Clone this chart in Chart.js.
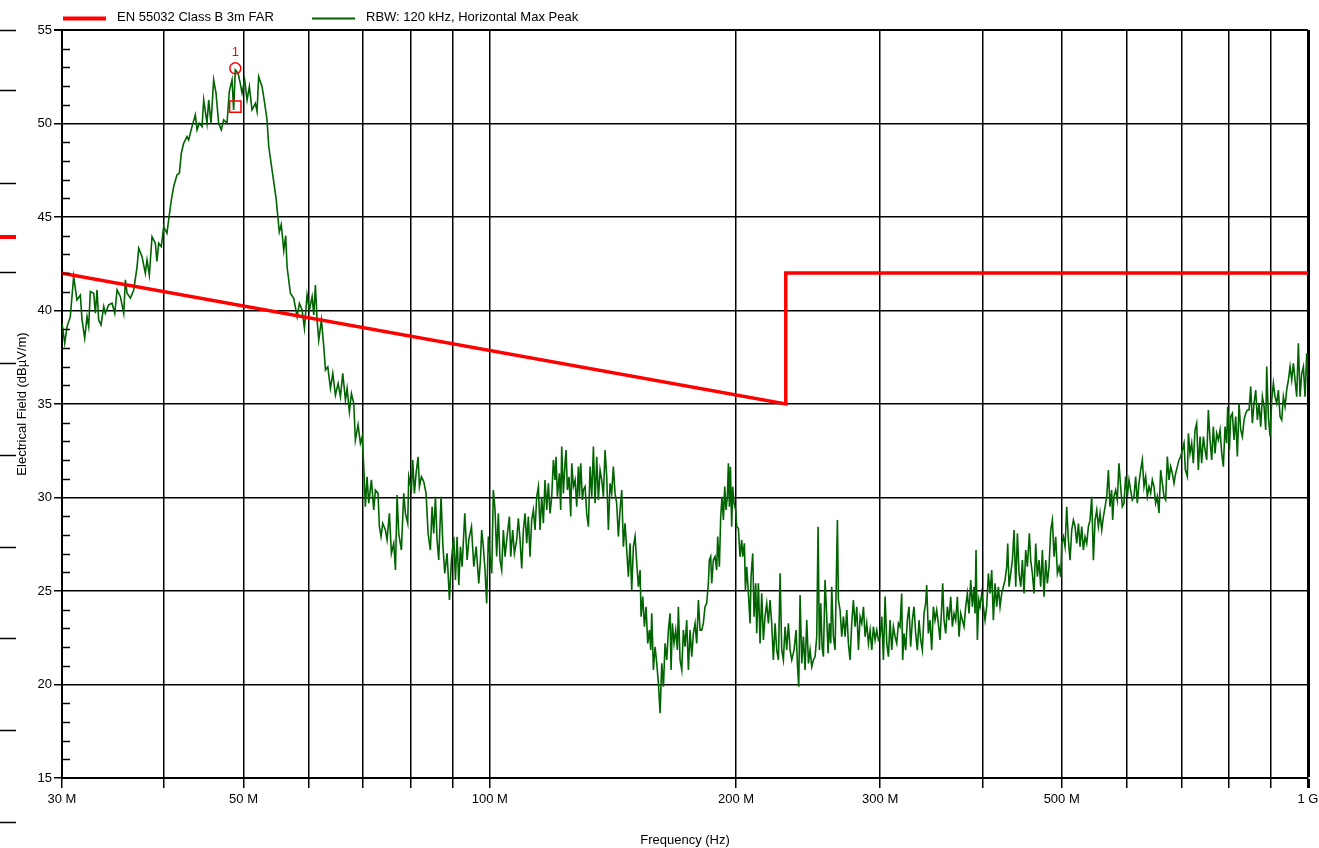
<!DOCTYPE html>
<html>
<head>
<meta charset="utf-8">
<title>Radiated emission scan</title>
<script src="https://cdn.jsdelivr.net/npm/chart.js@4.4.1/dist/chart.umd.min.js"></script>
<style>
  html, body { margin: 0; padding: 0; background: #fff; }
  #wrap { width: 1319px; height: 848px; position: relative; }
</style>
</head>
<body>
<div id="wrap"><canvas id="emiChart"></canvas></div>
<script>
// limit line (MHz / dBuV/m)
const limitFreq = [30, 230, 230, 1000];
const limitLevel = [42, 35, 42, 42];

const traceFreq = [
  30.00, 30.23, 30.43, 30.71, 31.00, 31.29, 31.59, 31.74, 31.98, 32.19,
  32.34, 32.49, 32.80, 32.95, 33.11, 33.26, 33.48, 33.74, 33.89, 34.21,
  34.54, 34.80, 35.03, 35.36, 35.69, 35.86, 36.03, 36.37, 36.71, 37.06,
  37.23, 37.58, 37.93, 38.11, 38.36, 38.65, 39.01, 39.19, 39.38, 39.67,
  39.94, 40.31, 40.50, 40.81, 41.08, 41.46, 41.74, 41.97, 42.25, 42.65,
  42.85, 43.25, 43.66, 43.87, 44.15, 44.49, 44.70, 45.12, 45.33, 45.63,
  45.97, 46.28, 46.62, 46.97, 47.28, 47.73, 48.04, 48.41, 48.63, 48.86,
  49.23, 49.55, 49.79, 50.16, 50.50, 50.83, 51.21, 51.70, 51.94, 52.18,
  52.68, 53.07, 53.42, 53.68, 54.18, 54.80, 55.30, 55.60, 56.00, 56.30,
  56.52, 57.05, 57.59, 58.14, 58.52, 58.96, 59.35, 59.79, 60.19, 60.65,
  60.93, 61.21, 61.50, 61.79, 62.26, 62.67, 62.97, 63.38, 63.86, 64.28,
  64.76, 65.25, 65.68, 66.11, 66.61, 66.92, 67.36, 67.74, 68.19, 68.50,
  69.02, 69.47, 69.81, 70.13, 70.46, 70.79, 71.12, 71.66, 72.13, 72.47,
  73.01, 73.29, 73.63, 73.98, 74.54, 74.89, 75.38, 75.81, 76.31, 76.68,
  77.03, 77.39, 77.97, 78.49, 78.86, 79.37, 79.60, 80.20, 80.50, 80.88,
  81.26, 81.72, 82.03, 82.49, 83.03, 83.58, 84.05, 84.60, 85.00, 85.40,
  85.81, 86.21, 86.61, 87.18, 87.60, 88.09, 88.67, 89.26, 89.76, 90.35,
  90.78, 91.21, 91.64, 92.06, 92.50, 93.20, 93.81, 94.26, 94.97, 95.59,
  96.23, 96.94, 97.40, 97.74, 98.19, 98.66, 99.12, 99.59, 100.06, 100.54,
  101.00, 101.48, 101.95, 102.43, 102.91, 103.39, 103.89, 104.38, 104.87, 105.66,
  106.06, 106.65, 107.16, 107.86, 108.36, 108.88, 109.39, 109.91, 110.43, 110.94,
  111.46, 111.98, 112.51, 113.04, 113.57, 114.11, 114.65, 115.18, 115.73, 116.27,
  116.81, 117.37, 117.92, 118.47, 119.03, 119.59, 120.15, 120.49, 120.95, 121.63,
  122.08, 122.43, 123.00, 123.58, 123.93, 124.40, 124.98, 125.58, 125.93, 126.52,
  127.12, 127.71, 128.31, 128.68, 129.16, 129.77, 130.13, 130.74, 131.35, 131.98,
  132.60, 133.24, 133.85, 134.48, 135.11, 135.74, 136.38, 137.02, 137.66, 138.31,
  138.96, 139.61, 140.26, 140.92, 141.58, 142.25, 142.92, 143.59, 144.27, 144.95,
  145.63, 146.31, 147.00, 147.69, 148.39, 149.09, 149.79, 150.50, 151.21, 151.92,
  152.63, 153.07, 153.79, 154.51, 155.23, 155.96, 156.70, 157.29, 157.73, 158.47,
  159.22, 159.97, 160.72, 161.48, 162.24, 163.00, 163.76, 164.54, 165.30, 166.07,
  166.54, 167.16, 167.95, 168.74, 169.53, 170.00, 170.81, 171.62, 172.42, 173.23,
  174.04, 174.87, 175.69, 176.53, 177.35, 178.18, 179.01, 179.86, 180.70, 181.54,
  182.38, 183.24, 184.10, 184.98, 185.49, 186.19, 186.74, 187.60, 188.48, 189.36,
  189.90, 190.80, 191.51, 192.23, 192.96, 193.69, 194.41, 195.14, 195.70, 196.25,
  196.80, 197.53, 198.09, 198.84, 199.78, 200.33, 201.28, 202.22, 203.19, 203.75,
  204.71, 205.31, 206.06, 207.03, 208.00, 208.59, 209.57, 210.37, 211.35, 211.94,
  212.94, 213.94, 214.95, 215.96, 216.96, 217.99, 219.02, 220.04, 221.07, 222.11,
  223.17, 224.21, 225.29, 226.34, 227.39, 228.45, 229.54, 230.61, 231.70, 232.80,
  233.89, 235.44, 236.76, 237.65, 238.54, 239.44, 240.58, 241.70, 242.84, 243.98,
  245.17, 246.28, 247.46, 248.60, 249.77, 250.94, 251.89, 252.84, 253.80, 254.75,
  255.69, 256.89, 258.10, 259.07, 260.04, 261.02, 261.75, 262.98, 264.23, 265.46,
  265.97, 266.71, 267.97, 269.24, 270.52, 271.80, 273.07, 274.33, 275.61, 276.91,
  278.21, 279.52, 280.86, 282.18, 283.51, 284.85, 286.18, 287.52, 288.87, 290.24,
  291.60, 292.97, 294.34, 295.74, 297.13, 298.53, 299.94, 301.34, 302.74, 304.18,
  305.61, 307.04, 308.46, 309.91, 311.37, 312.84, 314.31, 315.77, 317.20, 318.70,
  319.59, 320.80, 322.31, 323.82, 325.33, 326.87, 328.42, 329.96, 331.50, 333.07,
  334.64, 336.22, 337.79, 339.39, 340.98, 341.94, 343.56, 345.16, 346.78, 348.42,
  350.06, 351.69, 353.35, 355.01, 356.71, 357.69, 359.04, 360.74, 362.43, 364.12,
  365.85, 367.58, 369.30, 371.03, 372.78, 374.53, 376.29, 378.06, 379.84, 381.62,
  383.42, 385.23, 387.04, 388.86, 390.68, 391.80, 392.88, 394.37, 395.89, 397.35,
  399.21, 401.07, 402.96, 404.86, 406.76, 408.69, 410.61, 412.54, 414.49, 416.44,
  418.38, 420.35, 422.33, 424.31, 426.31, 428.31, 429.53, 431.12, 433.17, 435.21,
  437.26, 439.30, 441.39, 443.47, 445.55, 447.64, 449.70, 451.82, 453.94, 456.50,
  458.22, 460.37, 462.54, 464.72, 466.91, 469.11, 471.30, 473.51, 475.75, 478.00,
  480.24, 482.49, 484.77, 487.06, 489.35, 491.64, 493.97, 496.29, 498.62, 500.04,
  502.37, 504.73, 507.11, 509.51, 511.88, 514.29, 516.71, 519.17, 521.59, 524.10,
  526.52, 528.99, 531.45, 533.96, 536.48, 538.99, 541.54, 544.08, 546.64, 549.22,
  551.79, 554.37, 556.99, 559.63, 562.23, 564.88, 567.54, 570.22, 572.75, 575.46,
  577.07, 579.25, 581.97, 584.70, 587.43, 590.21, 593.00, 595.78, 598.57, 601.41,
  604.25, 607.09, 609.93, 612.80, 615.68, 618.57, 621.48, 624.40, 627.34, 630.29,
  633.26, 636.24, 639.24, 642.23, 645.23, 648.29, 651.34, 654.40, 657.46, 660.58,
  663.70, 666.83, 669.94, 673.11, 676.28, 679.45, 682.65, 685.86, 689.08, 692.32,
  695.59, 698.86, 702.15, 705.44, 708.13, 712.10, 714.18, 717.47, 720.83, 724.19,
  727.61, 731.04, 734.47, 737.95, 741.42, 744.90, 748.42, 751.93, 755.44, 759.00,
  762.59, 766.15, 769.76, 773.39, 777.06, 780.68, 784.43, 788.06, 791.75, 795.44,
  797.72, 801.49, 804.51, 808.28, 812.08, 815.90, 819.74, 823.59, 827.46, 831.35,
  835.26, 839.20, 843.15, 847.11, 851.09, 855.06, 859.11, 863.16, 867.22, 871.27,
  875.40, 879.54, 883.67, 887.81, 890.30, 894.48, 898.69, 902.94, 907.16, 911.41,
  915.70, 920.02, 924.33, 928.68, 933.05, 937.49, 941.85, 946.38, 950.76, 955.22,
  959.67, 964.21, 968.75, 973.29, 977.90, 982.49, 987.12, 991.74, 996.43, 999.24
];
const traceLevel = [
  39.32, 38.25, 39.14, 39.67, 41.81, 40.57, 40.83, 39.50, 38.52, 39.67,
  39.14, 41.01, 40.92, 39.85, 41.10, 39.50, 39.23, 40.21, 39.85, 40.30,
  40.39, 39.85, 41.10, 40.74, 39.85, 41.64, 40.92, 40.66, 41.10, 42.35,
  43.33, 42.88, 41.99, 42.70, 41.90, 43.95, 43.60, 42.62, 43.60, 43.42,
  44.49, 44.13, 44.84, 45.91, 46.63, 47.25, 47.34, 48.41, 48.94, 49.30,
  49.12, 49.83, 50.46, 49.66, 50.01, 49.83, 51.26, 50.01, 51.26, 50.01,
  52.33, 51.62, 50.01, 49.66, 50.19, 50.01, 51.71, 52.33, 50.73, 52.87,
  52.69, 52.15, 51.62, 52.33, 51.26, 51.97, 50.73, 51.08, 50.64, 52.51,
  51.97, 51.08, 50.19, 48.77, 47.52, 46.00, 44.20, 44.60, 43.20, 44.00,
  42.34, 40.92, 40.65, 39.67, 40.38, 40.03, 39.05, 40.83, 40.03, 40.74,
  39.76, 41.36, 39.49, 38.42, 39.49, 38.07, 36.82, 36.99, 35.84, 36.64,
  35.48, 36.10, 35.39, 36.64, 35.21, 35.84, 34.59, 35.57, 35.04, 33.07,
  33.88, 32.90, 33.25, 31.65, 29.51, 31.11, 29.69, 30.94, 29.33, 30.40,
  30.22, 28.44, 27.91, 28.62, 28.26, 27.73, 29.15, 27.01, 27.55, 26.12,
  30.13, 28.08, 27.19, 30.22, 29.15, 28.62, 31.11, 30.40, 32.00, 30.22,
  31.29, 32.18, 30.58, 31.11, 30.85, 30.22, 28.08, 27.19, 29.51, 28.08,
  30.04, 27.73, 26.66, 30.04, 27.55, 25.94, 27.01, 24.52, 26.66, 27.90,
  25.59, 27.90, 25.32, 27.37, 26.30, 29.15, 26.66, 27.73, 28.44, 26.30,
  27.37, 25.41, 26.66, 28.26, 27.37, 26.12, 24.34, 27.91, 26.84, 25.94,
  30.40, 29.33, 26.84, 29.15, 26.66, 26.12, 28.26, 26.84, 27.73, 28.98,
  26.84, 28.26, 27.01, 27.73, 28.89, 27.73, 26.21, 28.26, 29.15, 27.55,
  28.98, 26.84, 28.80, 29.33, 28.26, 30.04, 30.58, 28.26, 30.04, 28.62,
  30.94, 29.33, 30.76, 29.15, 30.04, 32.01, 30.94, 32.18, 30.04, 31.29,
  29.33, 32.72, 30.22, 31.83, 32.54, 30.40, 31.11, 28.98, 31.83, 30.58,
  30.94, 29.51, 31.65, 30.04, 31.83, 29.87, 30.40, 30.58, 29.15, 28.44,
  31.65, 30.04, 32.72, 29.69, 32.18, 29.87, 31.47, 30.94, 30.04, 32.54,
  31.11, 28.26, 30.76, 30.22, 31.65, 30.22, 29.69, 27.91, 29.33, 30.40,
  27.37, 28.62, 27.19, 25.77, 27.55, 25.05, 27.37, 27.91, 26.48, 25.23,
  26.12, 23.63, 24.70, 23.09, 24.16, 22.20, 22.91, 21.85, 23.81, 20.78,
  22.02, 21.13, 20.06, 18.46, 21.13, 19.88, 22.20, 21.31, 22.91, 23.81,
  20.78, 23.27, 22.20, 22.91, 21.85, 24.16, 21.31, 20.78, 22.91, 22.02,
  23.45, 20.78, 22.91, 21.49, 22.74, 23.27, 22.20, 24.52, 22.91, 22.91,
  23.27, 24.16, 24.34, 25.41, 26.66, 26.84, 25.41, 26.66, 26.84, 26.12,
  27.91, 26.30, 28.97, 30.04, 28.80, 30.58, 29.33, 30.04, 31.83, 29.51,
  31.65, 28.44, 30.58, 29.69, 29.33, 28.44, 28.35, 26.84, 27.73, 26.84,
  27.55, 25.05, 26.30, 24.88, 23.27, 25.77, 27.01, 23.63, 25.41, 22.74,
  25.41, 22.20, 24.88, 22.38, 23.63, 24.34, 23.27, 24.52, 23.27, 21.31,
  23.27, 21.85, 21.31, 25.95, 21.85, 21.31, 23.09, 21.85, 23.27, 21.85,
  21.31, 21.85, 22.91, 21.13, 19.88, 24.79, 21.13, 22.56, 20.78, 23.45,
  21.13, 21.85, 20.95, 21.31, 21.49, 22.56, 28.44, 21.85, 24.34, 22.02,
  21.49, 25.59, 23.63, 21.67, 23.27, 22.20, 25.23, 22.56, 21.85, 26.84,
  28.80, 24.52, 23.98, 22.56, 23.63, 22.56, 23.98, 22.20, 21.31, 23.27,
  24.52, 23.09, 24.16, 21.85, 23.63, 23.27, 24.16, 22.56, 23.27, 22.20,
  22.91, 21.85, 23.09, 22.38, 22.91, 22.38, 22.56, 23.63, 21.31, 24.70,
  22.20, 21.49, 23.45, 21.85, 23.09, 22.56, 22.20, 23.27, 23.09, 24.87,
  21.31, 22.73, 21.84, 23.44, 24.16, 22.02, 23.44, 24.16, 22.73, 21.84,
  23.44, 22.38, 21.84, 23.80, 24.34, 25.32, 22.73, 23.44, 21.84, 24.16,
  23.44, 23.98, 23.27, 22.38, 24.16, 25.41, 23.44, 22.73, 24.16, 23.44,
  24.69, 23.09, 23.80, 23.44, 24.69, 22.55, 23.80, 23.44, 23.09, 24.16,
  24.87, 23.80, 25.58, 24.16, 25.23, 23.80, 27.19, 22.38, 24.51, 24.16,
  24.87, 24.16, 23.44, 24.16, 25.94, 24.87, 26.12, 23.44, 25.41, 24.16,
  25.23, 24.16, 24.87, 25.23, 25.58, 26.30, 27.54, 25.23, 25.94, 26.65,
  28.26, 25.23, 28.08, 25.94, 25.23, 26.65, 24.87, 27.19, 26.30, 28.08,
  26.65, 25.94, 24.87, 27.54, 25.76, 26.65, 25.23, 27.19, 24.69, 26.65,
  25.41, 26.30, 28.26, 28.79, 26.83, 27.90, 25.94, 26.30, 25.76, 27.54,
  27.90, 27.37, 29.50, 27.72, 26.65, 28.26, 28.79, 28.44, 27.54, 28.61,
  27.37, 28.44, 27.19, 27.90, 27.54, 28.44, 28.79, 30.04, 26.65, 28.79,
  29.33, 28.44, 29.15, 28.26, 28.97, 29.50, 30.04, 31.47, 29.51, 30.40,
  28.80, 30.05, 30.40, 29.87, 31.83, 30.58, 29.51, 29.69, 31.12, 30.05,
  30.94, 30.40, 29.87, 30.05, 31.12, 29.69, 30.76, 31.47, 32.01, 30.58,
  31.12, 30.05, 30.58, 30.23, 30.94, 30.58, 29.69, 30.05, 29.16, 31.47,
  30.76, 30.05, 29.87, 32.19, 30.94, 31.65, 31.30, 30.76, 31.30, 31.65,
  32.01, 32.19, 32.54, 32.90, 31.47, 31.12, 33.43, 32.36, 32.90, 31.83,
  33.61, 33.97, 31.47, 33.26, 31.83, 33.26, 32.54, 32.01, 34.68, 33.08,
  32.01, 33.79, 32.36, 33.43, 33.08, 33.61, 32.36, 31.65, 33.79, 32.90,
  34.86, 32.54, 34.33, 34.50, 33.08, 34.33, 32.19, 35.04, 33.61, 33.26,
  34.15, 34.50, 34.68, 34.68, 35.93, 33.97, 35.04, 35.75, 34.15, 35.04,
  33.79, 35.39, 34.86, 33.61, 37.00, 34.33, 33.26, 35.22, 36.11, 35.39,
  35.04, 35.75, 34.33, 34.15, 35.39, 34.86, 35.75, 36.29, 37.00, 36.29,
  37.18, 36.29, 35.39, 38.25, 35.39, 36.64, 37.00, 35.39, 37.71, 36.46
];

// marker 1: peak (circle) and quasi-peak (square)
const markerNames = ['1'];
const markerFreq = [48.86];
const markerPeak = [52.95];
const markerQp = [50.9];

const xTickValues = [30, 40, 50, 60, 70, 80, 90, 100, 200, 300, 400, 500, 600, 700, 800, 900, 1000];
const xTickLabels = { 30: '30 M', 50: '50 M', 100: '100 M', 200: '200 M', 300: '300 M', 500: '500 M', 1000: '1 G' };
const yMin = 15;
const yMax = 55;
const seriesNames = ['EN 55032 Class B 3m FAR', 'RBW: 120 kHz, Horizontal Max Peak'];

if (traceFreq.length !== traceLevel.length) {
    throw new Error('trace arrays differ: ' + traceFreq.length + ' vs ' + traceLevel.length);
}

const FONT = "'Liberation Sans', Arial, sans-serif";
const RED = '#ff0000';
const GREEN = '#006400';

const extras = {
    id: 'extras',
    afterDraw(chart) {
        const { ctx, chartArea } = chart;
        const xs = chart.scales.x;
        const ys = chart.scales.y;
        ctx.save();

        // minor y ticks, drawn inward
        ctx.strokeStyle = '#000';
        ctx.lineWidth = 1.5;
        for (let v = yMin; v <= yMax; v++) {
            if (v % 5 === 0) continue;
            const py = Math.round(ys.getPixelForValue(v)) + 0.5;
            ctx.beginPath();
            ctx.moveTo(chartArea.left, py);
            ctx.lineTo(chartArea.left + 8, py);
            ctx.stroke();
        }

        // marker label
        ctx.fillStyle = RED;
        ctx.font = '13px ' + FONT;
        ctx.textAlign = 'center';
        ctx.textBaseline = 'alphabetic';
        markerNames.forEach((name, i) => {
            const px = xs.getPixelForValue(markerFreq[i]);
            const py = ys.getPixelForValue(markerPeak[i]);
            ctx.fillText(name, px, py - 12);
        });

        // legend strip
        const legendX = [63, 312];
        const widths = [4, 2];
        const colors = [RED, GREEN];
        ctx.textAlign = 'left';
        ctx.fillStyle = '#000';
        seriesNames.forEach((name, i) => {
            ctx.strokeStyle = colors[i];
            ctx.lineWidth = widths[i];
            ctx.beginPath();
            ctx.moveTo(legendX[i], 18.5);
            ctx.lineTo(legendX[i] + 43, 18.5);
            ctx.stroke();
            ctx.fillText(name, legendX[i] + 54, 21);
        });

        // stubs along the left edge
        ctx.strokeStyle = '#000';
        ctx.lineWidth = 1.5;
        [30, 90, 183, 272, 363, 455, 547, 638, 730, 822].forEach(py => {
            ctx.beginPath();
            ctx.moveTo(0, py + 0.5);
            ctx.lineTo(16, py + 0.5);
            ctx.stroke();
        });
        ctx.strokeStyle = RED;
        ctx.lineWidth = 4;
        ctx.beginPath();
        ctx.moveTo(0, 237);
        ctx.lineTo(16, 237);
        ctx.stroke();

        ctx.restore();
    }
};

const ctx = document.getElementById('emiChart').getContext('2d');
new Chart(ctx, {
    type: 'line',
    data: {
        datasets: [
            {
                label: seriesNames[0],
                data: limitFreq.map((f, i) => ({ x: f, y: limitLevel[i] })),
                borderColor: RED,
                borderWidth: 3.5,
                pointRadius: 0,
                tension: 0
            },
            {
                label: 'Marker peak',
                data: markerFreq.map((f, i) => ({ x: f, y: markerPeak[i] })),
                showLine: false,
                pointStyle: 'circle',
                pointRadius: 5.5,
                pointBorderWidth: 1.5,
                pointBorderColor: RED,
                pointBackgroundColor: 'rgba(0,0,0,0)'
            },
            {
                label: 'Marker QP',
                data: markerFreq.map((f, i) => ({ x: f, y: markerQp[i] })),
                showLine: false,
                pointStyle: 'rect',
                pointRadius: 8,
                pointBorderWidth: 1.5,
                pointBorderColor: RED,
                pointBackgroundColor: 'rgba(0,0,0,0)'
            },
            {
                label: seriesNames[1],
                data: traceFreq.map((f, i) => ({ x: f, y: traceLevel[i] })),
                borderColor: GREEN,
                borderWidth: 1.6,
                pointRadius: 0,
                tension: 0
            }
        ]
    },
    options: {
        responsive: true,
        maintainAspectRatio: false,
        animation: false,
        devicePixelRatio: 1,
        layout: { padding: { top: 30, right: 11, bottom: 0, left: 0 } },
        plugins: {
            legend: { display: false },
            tooltip: { enabled: false }
        },
        scales: {
            x: {
                type: 'logarithmic',
                min: 30,
                max: 1000,
                afterBuildTicks: scale => {
                    scale.ticks = xTickValues.map(v => ({ value: v }));
                },
                afterFit: scale => {
                    scale.height = 70;
                    scale.paddingLeft = 0;
                    scale.paddingRight = 0;
                },
                ticks: {
                    autoSkip: false,
                    maxRotation: 0,
                    minRotation: 0,
                    padding: 4,
                    color: '#000',
                    font: { family: FONT, size: 13 },
                    callback: value => xTickLabels[value] || ''
                },
                grid: {
                    color: '#000',
                    lineWidth: c => (c.tick && c.tick.value === 1000 ? 3 : 1.5),
                    tickLength: 10
                },
                border: { color: '#000', width: 2 },
                title: {
                    display: true,
                    text: 'Frequency (Hz)',
                    color: '#000',
                    font: { family: FONT, size: 13 },
                    padding: { top: 0, bottom: 0 }
                }
            },
            y: {
                type: 'linear',
                min: yMin,
                max: yMax,
                afterFit: scale => { scale.width = 62; },
                ticks: {
                    stepSize: 1,
                    autoSkip: false,
                    padding: 2,
                    color: '#000',
                    font: { family: FONT, size: 13 },
                    callback: value => (value % 5 === 0 ? String(value) : '')
                },
                grid: {
                    color: c => (c.tick && c.tick.value % 5 === 0 ? '#000' : 'rgba(0,0,0,0)'),
                    lineWidth: c => (c.tick && c.tick.value === yMax ? 2 : 1.5),
                    tickLength: 8
                },
                border: { color: '#000', width: 2 },
                title: {
                    display: true,
                    text: 'Electrical Field (dBµV/m)',
                    color: '#000',
                    font: { family: FONT, size: 13 },
                    padding: { top: 15, bottom: 0 }
                }
            }
        }
    },
    plugins: [extras]
});
</script>
</body>
</html>
